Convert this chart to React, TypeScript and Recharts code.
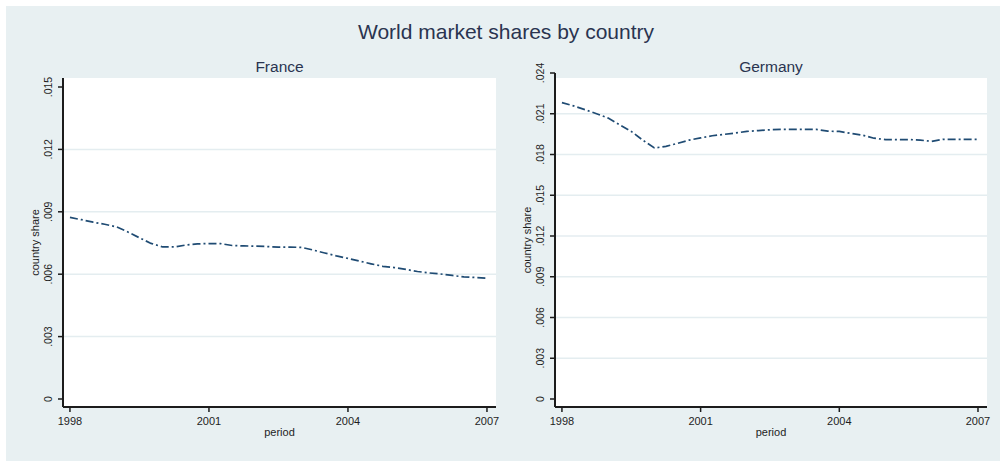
import { LineChart, Line, XAxis, YAxis, CartesianGrid } from 'recharts';

// quarterly observation dates
const periods = [
  1998, 1998.25, 1998.5, 1998.75, 1999, 1999.25, 1999.5, 1999.75,
  2000, 2000.25, 2000.5, 2000.75, 2001, 2001.25, 2001.5, 2001.75,
  2002, 2002.25, 2002.5, 2002.75, 2003, 2003.25, 2003.5, 2003.75,
  2004, 2004.25, 2004.5, 2004.75, 2005, 2005.25, 2005.5, 2005.75,
  2006, 2006.25, 2006.5, 2006.75, 2007,
];

const franceShare = [
  0.00873, 0.00862, 0.0085, 0.0084, 0.00828, 0.00803, 0.00775, 0.00748,
  0.00731, 0.00731, 0.0074, 0.00746, 0.00747, 0.00747, 0.00738, 0.00736,
  0.00735, 0.00733, 0.0073, 0.0073, 0.00729, 0.00716, 0.00702, 0.00688,
  0.00676, 0.00663, 0.0065, 0.00638, 0.00632, 0.00623, 0.00613, 0.00606,
  0.00601, 0.00594, 0.00587, 0.00584, 0.00581,
];

const germanyShare = [
  0.02182, 0.02158, 0.0213, 0.021, 0.02068, 0.02018, 0.0197, 0.01905,
  0.01848, 0.0186, 0.01882, 0.01906, 0.01922, 0.01938, 0.01948, 0.01958,
  0.0197, 0.01976, 0.01982, 0.01985, 0.01985, 0.01985, 0.01985, 0.01972,
  0.0197, 0.01955, 0.01942, 0.0192, 0.0191, 0.0191, 0.0191, 0.01906,
  0.01897, 0.01912, 0.01912, 0.01912, 0.01912,
];

const yearTicks = [1998, 2001, 2004, 2007];
const franceTicks = [0, 0.003, 0.006, 0.009, 0.012, 0.015];
const franceGrid = [0.003, 0.006, 0.009, 0.012];
const germanyTicks = [0, 0.003, 0.006, 0.009, 0.012, 0.015, 0.018, 0.021, 0.024];
const germanyGrid = [0.003, 0.006, 0.009, 0.012, 0.015, 0.018, 0.021];

const FONT = '"Liberation Sans", Arial, Helvetica, sans-serif';
const GRAPH_BG = '#e8f0f2';
const GRID = '#e4edf0';
const LINE = '#1f4b73';
const AXIS = '#1c1c1c';
const TEXT = '#1e1e1e';

const PLOT_TOP = 78;
const PLOT_BOTTOM = 407;
const AXIS_W = 30;
const XAXIS_H = 30;
const CHART_H = 462;

// Stata-style label: .015 instead of 0.015
const fmtShare = (v: number) => (v === 0 ? '0' : v.toFixed(3).replace(/^0/, ''));

function ShareTick(props: any) {
  const { x, y, payload } = props;
  return (
    <text
      x={x}
      y={y}
      transform={`rotate(-90 ${x} ${y})`}
      textAnchor="middle"
      fontSize={10.5}
      fontFamily={FONT}
      fill={TEXT}
    >
      {fmtShare(payload.value)}
    </text>
  );
}

function ShareTitle(props: any) {
  const vb = props.viewBox || { x: 0, y: 0, width: 0, height: 0 };
  const x = vb.x + 6;
  const y = vb.y + vb.height / 2;
  return (
    <text
      x={x}
      y={y}
      transform={`rotate(-90 ${x} ${y})`}
      textAnchor="middle"
      fontSize={11}
      fontFamily={FONT}
      fill={TEXT}
    >
      country share
    </text>
  );
}

function PeriodTitle(props: any) {
  const vb = props.viewBox || { x: 0, y: 0, width: 0, height: 0 };
  return (
    <text
      x={vb.x + vb.width / 2}
      y={vb.y + vb.height - 1}
      textAnchor="middle"
      fontSize={11}
      fontFamily={FONT}
      fill={TEXT}
    >
      period
    </text>
  );
}

interface PanelProps {
  left: number;
  title: string;
  values: number[];
  ticks: number[];
  grid: number[];
  domain: [number, number];
  axisTop: number;
  plotLeft: number;
  plotRight: number;
}

function Panel({ left, title, values, ticks, grid, domain, axisTop, plotLeft, plotRight }: PanelProps) {
  const data = periods.map((p, i) => ({ period: p, share: values[i] }));
  const plotW = plotRight - plotLeft;

  return (
    <div style={{ position: 'absolute', left, top: 0, width: 500, height: CHART_H }}>
      <div
        style={{
          position: 'absolute',
          left: plotLeft,
          top: PLOT_TOP,
          width: plotW,
          height: PLOT_BOTTOM - PLOT_TOP,
          background: '#fff',
        }}
      />
      <svg width={500} height={CHART_H} style={{ position: 'absolute', left: 0, top: 0 }}>
        <text
          x={plotLeft + plotW / 2}
          y={72}
          textAnchor="middle"
          fontSize={15.5}
          fontFamily={FONT}
          fill="#2a3450"
        >
          {title}
        </text>
      </svg>
      <div style={{ position: 'absolute', left: 0, top: 0 }}>
        <LineChart
          width={500}
          height={CHART_H}
          data={data}
          margin={{
            top: axisTop,
            right: 500 - plotRight,
            bottom: CHART_H - PLOT_BOTTOM - XAXIS_H,
            left: plotLeft - AXIS_W,
          }}
        >
          <CartesianGrid
            vertical={false}
            horizontalValues={grid}
            stroke={GRID}
            strokeWidth={1.5}
          />
          <XAxis
            dataKey="period"
            type="number"
            domain={[1997.85, 2007.195]}
            ticks={yearTicks}
            height={XAXIS_H}
            tickSize={5}
            tickMargin={5}
            axisLine={{ stroke: AXIS, strokeWidth: 2 }}
            tickLine={{ stroke: AXIS, strokeWidth: 1.5 }}
            tick={{ fontSize: 11, fontFamily: FONT, fill: TEXT }}
            label={<PeriodTitle />}
            allowDataOverflow
          />
          <YAxis
            type="number"
            domain={domain}
            ticks={ticks}
            width={AXIS_W}
            tickSize={5}
            tickMargin={6}
            axisLine={{ stroke: AXIS, strokeWidth: 2 }}
            tickLine={{ stroke: AXIS, strokeWidth: 1.5 }}
            tick={<ShareTick />}
            label={<ShareTitle />}
            allowDataOverflow
          />
          <Line
            type="linear"
            dataKey="share"
            stroke={LINE}
            strokeWidth={1.7}
            strokeDasharray="8 3 2 3"
            dot={false}
            isAnimationActive={false}
          />
        </LineChart>
      </div>
    </div>
  );
}

export default function App() {
  return (
    <div style={{ position: 'absolute', left: 0, top: 0, width: 1000, height: CHART_H, background: '#fff' }}>
      <div
        style={{
          position: 'absolute',
          left: 6,
          top: 6,
          width: 994,
          height: 455,
          background: GRAPH_BG,
        }}
      />
      <svg width={1000} height={60} style={{ position: 'absolute', left: 0, top: 0 }}>
        <text x={506} y={39} textAnchor="middle" fontSize={21} fontFamily={FONT} fill="#2a3450">
          World market shares by country
        </text>
      </svg>
      <Panel
        left={0}
        title="France"
        values={franceShare}
        ticks={franceTicks}
        grid={franceGrid}
        domain={[-0.000385, 0.015433]}
        axisTop={PLOT_TOP}
        plotLeft={63}
        plotRight={496}
      />
      <Panel
        left={500}
        title="Germany"
        values={germanyShare}
        ticks={germanyTicks}
        grid={germanyGrid}
        domain={[-0.000589, 0.024]}
        axisTop={73}
        plotLeft={55}
        plotRight={487}
      />
    </div>
  );
}
